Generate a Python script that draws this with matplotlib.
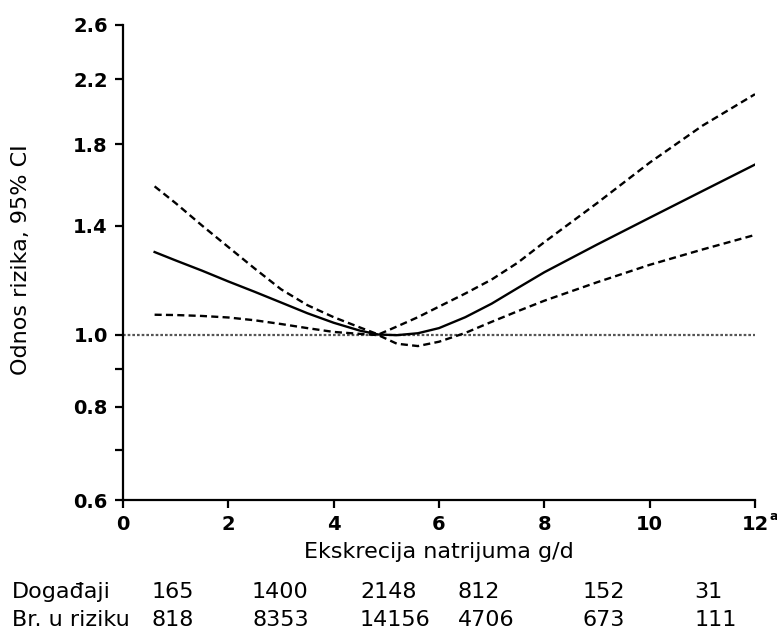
import numpy as np
import matplotlib
matplotlib.use("Agg")
import matplotlib.pyplot as plt
from matplotlib.ticker import FixedLocator, NullFormatter, NullLocator

# data (hazard ratio vs sodium excretion)
sodium = [0.6, 1.0, 1.5, 2.0, 2.5, 3.0, 3.5, 4.0, 4.5, 4.85, 5.2, 5.6,
          6.0, 6.5, 7.0, 7.5, 8.0, 9.0, 10.0, 11.0, 12.0]
hr = [1.29, 1.257, 1.218, 1.178, 1.141, 1.104, 1.068, 1.037, 1.012, 1.0, 0.998, 1.004,
      1.02, 1.055, 1.10, 1.155, 1.212, 1.32, 1.434, 1.557, 1.69]
hr_upper = [1.58, 1.50, 1.40, 1.31, 1.226, 1.15, 1.095, 1.055, 1.022, 1.0, 1.025, 1.055,
            1.09, 1.135, 1.185, 1.249, 1.33, 1.50, 1.70, 1.905, 2.10]
hr_lower = [1.063, 1.062, 1.059, 1.054, 1.045, 1.033, 1.02, 1.008, 1.002, 0.998, 0.972, 0.965,
            0.978, 1.005, 1.04, 1.075, 1.11, 1.175, 1.24, 1.30, 1.36]

x_ticks = [0, 2, 4, 6, 8, 10, 12]
y_ticks = [0.6, 0.8, 1.0, 1.4, 1.8, 2.2, 2.6]
y_minor = [0.7, 0.9]

events = ['165', '1400', '2148', '812', '152', '31']
at_risk = ['818', '8353', '14156', '4706', '673', '111']
col_x = [0.55, 2.45, 4.5, 6.36, 8.73, 10.85]

fig = plt.figure(figsize=(7.77, 6.34), dpi=100)
ax = fig.add_axes([123/777, 1 - 500/634, (755-123)/777, (500-25)/634])

ax.set_yscale('log')
ax.set_xlim(0, 12)
ax.set_ylim(0.6, 2.6)

ax.axhline(1.0, color='#555555', lw=1.6, linestyle=(0, (1.2, 0.9)), zorder=1)
ax.plot(sodium, hr, color='black', lw=1.7, zorder=3)
ax.plot(sodium, hr_upper, color='black', lw=1.7, linestyle=(0, (3, 1.8)), zorder=3)
ax.plot(sodium, hr_lower, color='black', lw=1.7, linestyle=(0, (3, 1.8)), zorder=3)

for s in ['top', 'right']:
    ax.spines[s].set_visible(False)
for s in ['left', 'bottom']:
    ax.spines[s].set_linewidth(1.6)

ax.yaxis.set_major_locator(FixedLocator(y_ticks))
ax.yaxis.set_minor_locator(FixedLocator(y_minor))
ax.yaxis.set_minor_formatter(NullFormatter())
ax.set_yticklabels([f'{v:.1f}' for v in y_ticks])
ax.set_xticks(x_ticks)
ax.xaxis.set_minor_locator(NullLocator())
ax.set_xticklabels([str(v) for v in x_ticks])

ax.tick_params(axis='both', which='both', direction='out', width=1.6, length=6)
ax.tick_params(axis='both', which='major', labelsize=14, pad=5)
for lab in ax.get_xticklabels() + ax.get_yticklabels():
    lab.set_fontweight('bold')

# superscript "a" next to 12
ax.text(12.28, -0.022, 'a', transform=ax.get_xaxis_transform(), fontsize=9,
        fontweight='bold', ha='left', va='top')

ax.set_ylabel('Odnos rizika, 95% CI', fontsize=16)
ax.yaxis.set_label_coords(-0.146, 0.505)
ax.set_xlabel('Ekskrecija natrijuma g/d', fontsize=16)
ax.xaxis.set_label_coords(0.5, -0.088)

# numbers under the axis
trans = ax.get_xaxis_transform()
fig.text(12/777, 1 - 592/634, 'Događaji', fontsize=16, va='center', ha='left')
fig.text(12/777, 1 - 620/634, 'Br. u riziku', fontsize=16, va='center', ha='left')
for xp, e, r in zip(col_x, events, at_risk):
    ax.text(xp, (500-592)/475, e, transform=trans, fontsize=16, va='center', ha='left')
    ax.text(xp, (500-620)/475, r, transform=trans, fontsize=16, va='center', ha='left')

fig.savefig('out.png', dpi=100)
